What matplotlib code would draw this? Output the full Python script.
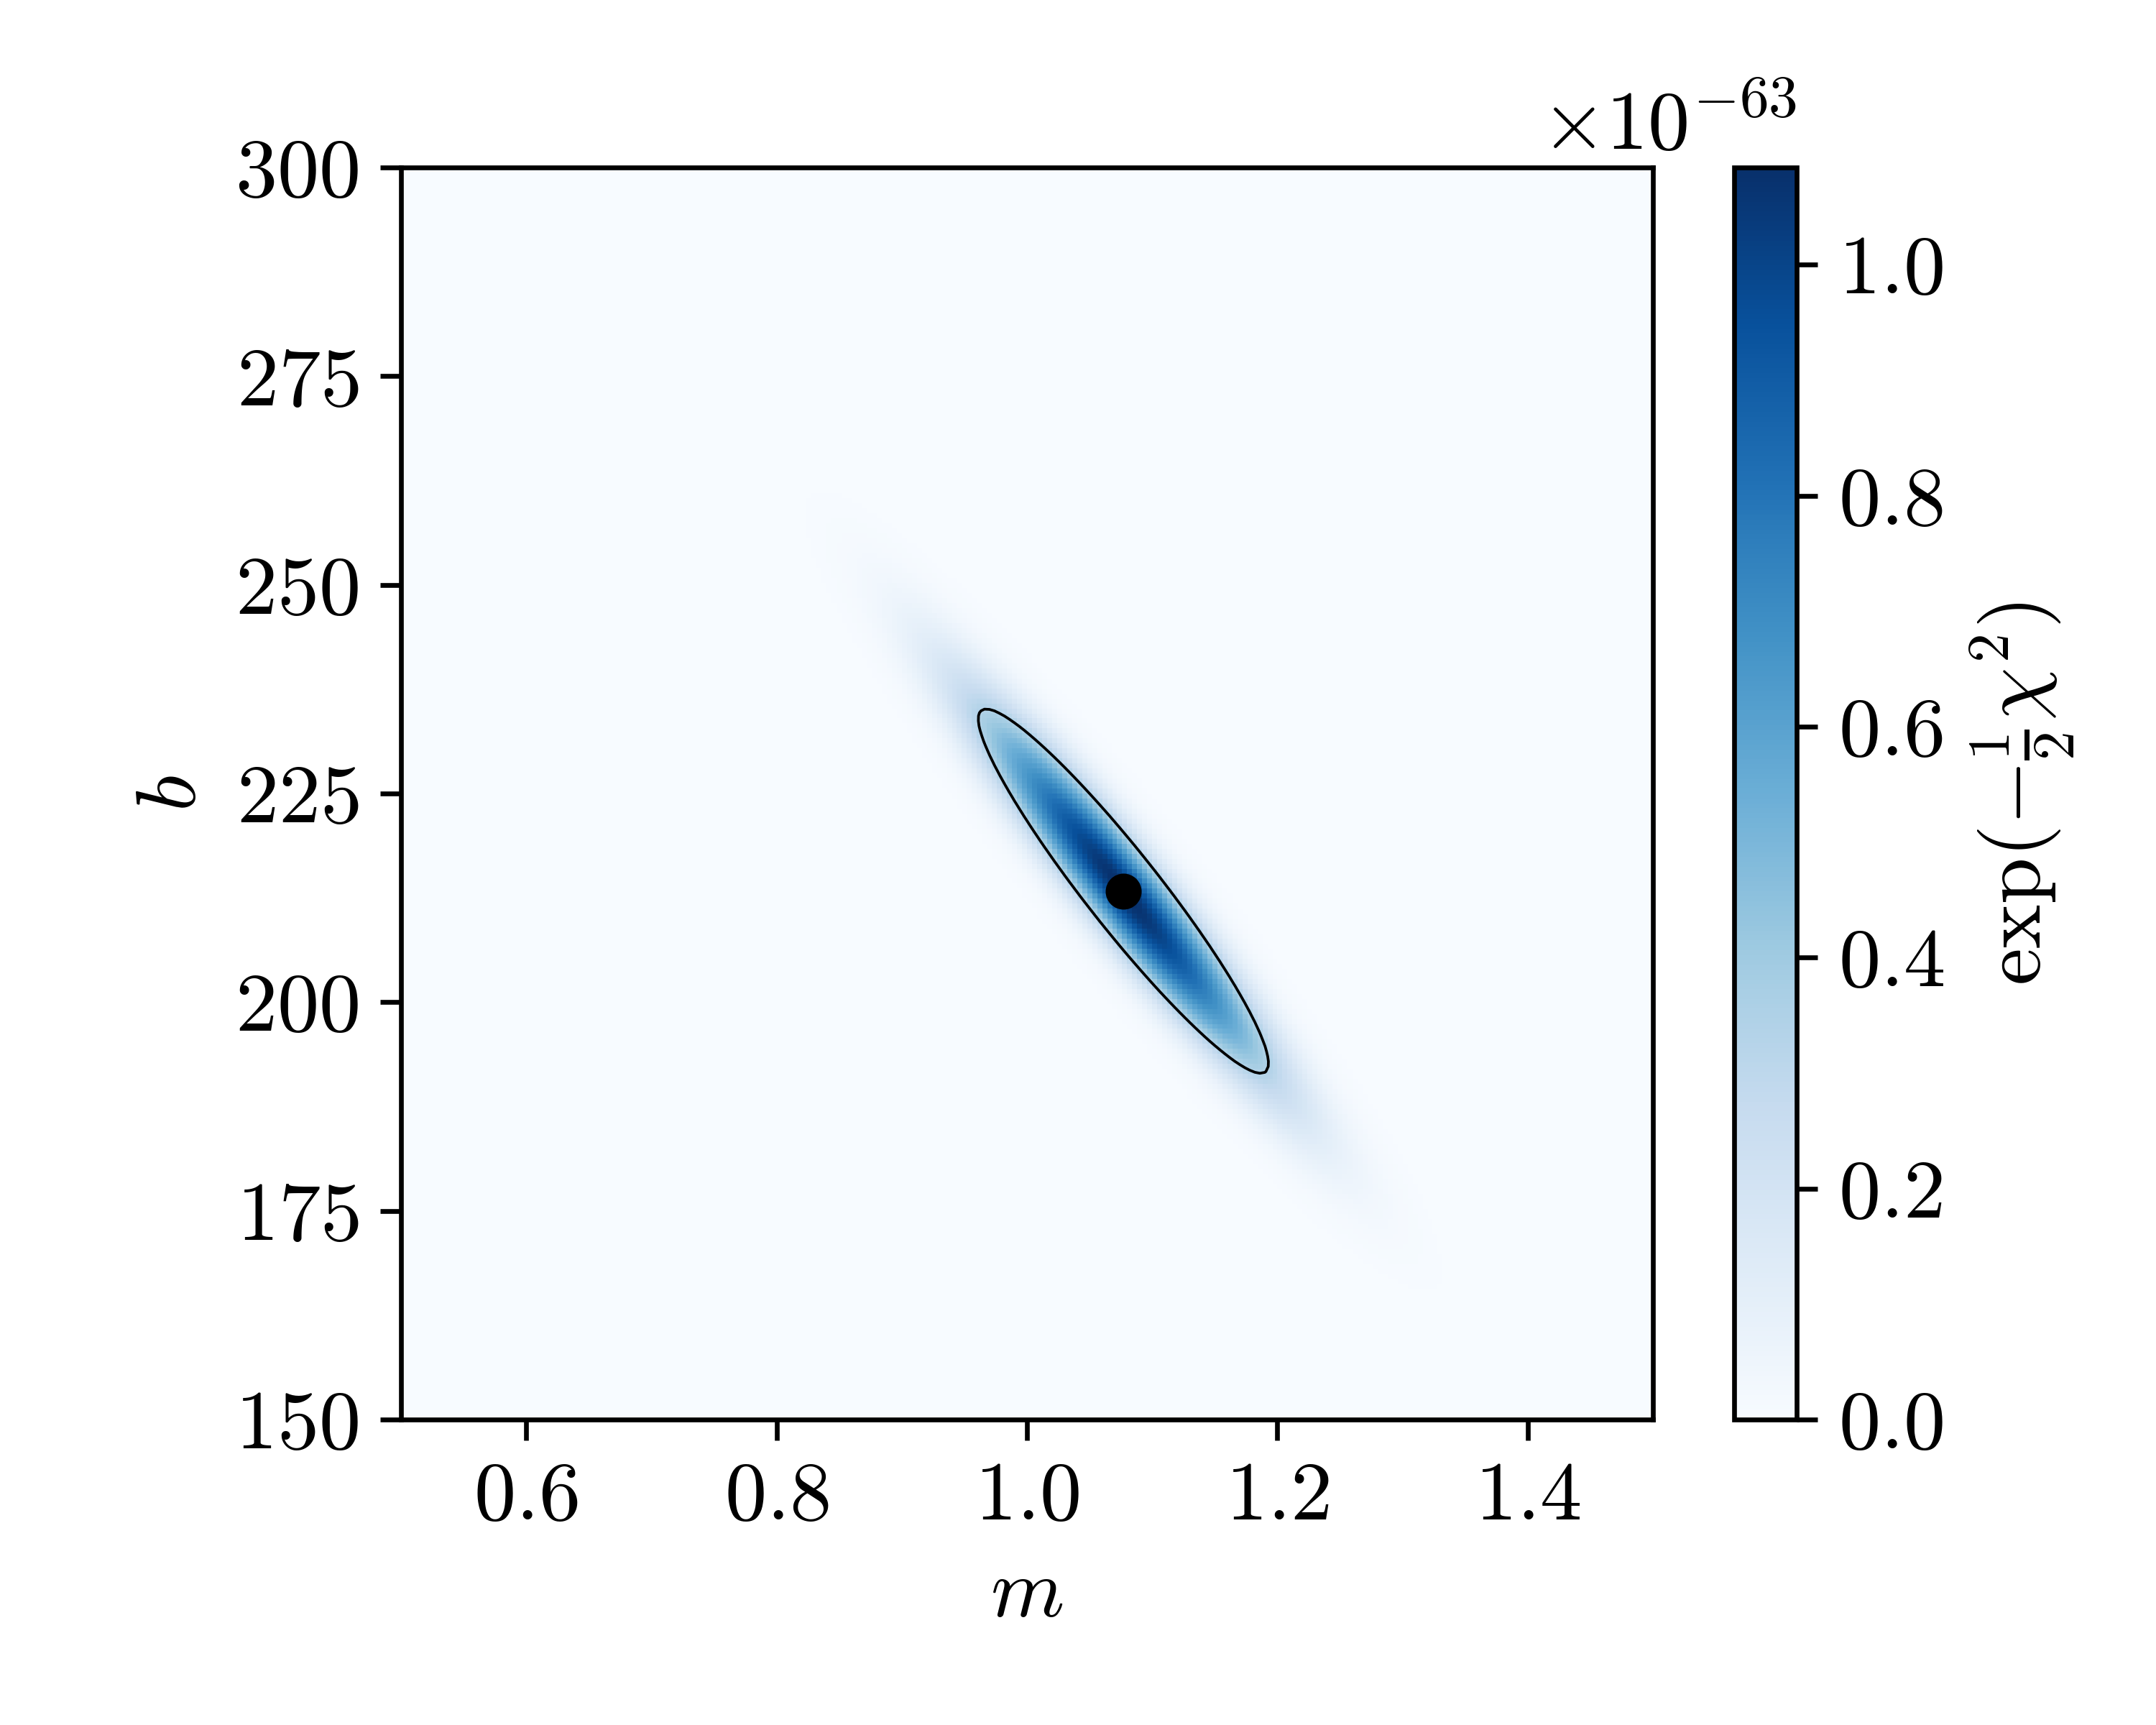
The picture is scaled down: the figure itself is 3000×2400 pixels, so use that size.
import numpy as np
import matplotlib
matplotlib.use("Agg")
import matplotlib.pyplot as plt

plt.rcParams['font.family'] = 'serif'
plt.rcParams['font.serif'] = ['cmr10', 'DejaVu Serif']
plt.rcParams['mathtext.fontset'] = 'cm'
plt.rcParams['axes.formatter.use_mathtext'] = True
plt.rcParams['axes.unicode_minus'] = False
plt.rcParams['font.size'] = 14

# ---- values ----
m_range = [0.5, 1.5]
b_range = [150.0, 300.0]
n_grid = 250
m_best = 1.077
b_best = 213.3
sigma_m = 0.0765
sigma_b = 14.4
rho_mb = -0.946
peak_value = 1.085e-63
delta_chi2_contour = 2.30
x_ticks = [0.6, 0.8, 1.0, 1.2, 1.4]
y_ticks = [150, 175, 200, 225, 250, 275, 300]
cbar_ticks = [0.0, 0.2e-63, 0.4e-63, 0.6e-63, 0.8e-63, 1.0e-63]

# ---- likelihood surface on the grid ----
m_edges = np.linspace(m_range[0], m_range[1], n_grid + 1)
b_edges = np.linspace(b_range[0], b_range[1], n_grid + 1)
m_c = 0.5 * (m_edges[:-1] + m_edges[1:])
b_c = 0.5 * (b_edges[:-1] + b_edges[1:])
M, B = np.meshgrid(m_c, b_c)
dm = (M - m_best) / sigma_m
db = (B - b_best) / sigma_b
dchi2 = (dm**2 - 2 * rho_mb * dm * db + db**2) / (1 - rho_mb**2)
L = peak_value * np.exp(-0.5 * dchi2)

fig = plt.figure(figsize=(5, 4), dpi=600)
ax = fig.add_axes([0.186, 0.1771, 0.5807, 0.7258])
cax = fig.add_axes([0.8043, 0.1771, 0.029, 0.7258])

mesh = ax.pcolormesh(m_edges, b_edges, L, cmap='Blues', vmin=0, vmax=L.max(),
                     shading='flat', rasterized=True)
ax.contour(M, B, dchi2, levels=[delta_chi2_contour], colors='k', linewidths=0.45)
ax.plot([m_best], [b_best], 'o', color='k', markersize=5)

ax.set_xlim(m_range)
ax.set_ylim(b_range)
ax.set_xticks(x_ticks)
ax.set_yticks(y_ticks)
ax.set_xlabel(r'$m$')
ax.set_ylabel(r'$b$')

cb = fig.colorbar(mesh, cax=cax)
cb.set_ticks(cbar_ticks)
cb.set_label(r'$\exp(-\frac{1}{2}\chi^2)$')

fig.savefig('out.png', dpi=600)
